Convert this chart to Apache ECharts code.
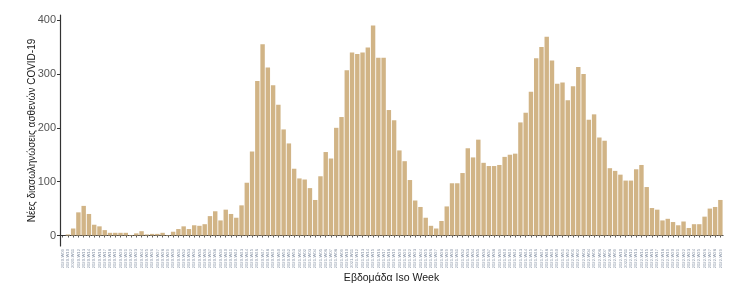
<!DOCTYPE html>
<html>
<head>
<meta charset="utf-8">
<script src="https://cdn.jsdelivr.net/npm/echarts@6/dist/echarts.min.js"></script>
<style>
html,body{margin:0;padding:0;background:#fff;}
#c{width:734px;height:285px;}
</style>
</head>
<body>
<div id="c"></div>
<script>
// ISO week ranges shown on the x axis
const weekRanges = [
  { year: 2020, from: 9, to: 53 },
  { year: 2021, from: 1, to: 52 },
  { year: 2022, from: 1, to: 29 }
];
const categories = [];
weekRanges.forEach(r => {
  for (let w = r.from; w <= r.to; w++) {
    categories.push(r.year + '-W' + (w < 10 ? '0' + w : w));
  }
});

// New intubations of COVID-19 patients per ISO week
const intubations = [
  0, 2, 13, 43, 55, 40, 20, 17, 10, 5, 5, 5, 5, 1, 4, 8, 2, 3, 3, 5,
  1, 7, 12, 17, 12, 19, 18, 21, 36, 45, 28, 48, 40, 33, 56, 98, 156, 287, 355, 312,
  279, 243, 197, 171, 124, 106, 104, 88, 66, 110, 155, 143, 200, 220, 307, 340, 337, 340, 349, 390,
  330, 330, 233, 214, 158, 138, 103, 65, 53, 33, 18, 13, 27, 54, 97, 97, 116, 162, 145, 178,
  135, 129, 129, 131, 146, 150, 152, 210, 228, 267, 329, 350, 369, 325, 282, 284, 251, 277, 313, 300,
  215, 225, 182, 176, 125, 120, 113, 102, 102, 123, 131, 90, 51, 48, 28, 31, 25, 19, 26, 14,
  21, 21, 35, 50, 53, 66
];

const yTicks = [0, 100, 200, 300, 400];
const yTitle = 'Νέες διασωληνώσεις ασθενών COVID-19';
const xTitle = 'Εβδομάδα Iso Week';

const chart = echarts.init(document.getElementById('c'), null, { renderer: 'canvas' });
chart.setOption({
  animation: false,
  backgroundColor: '#ffffff',
  textStyle: { fontFamily: 'Liberation Sans, Arial, sans-serif' },
  grid: { left: 60, right: 11, top: 15, bottom: 39, containLabel: false, outerBoundsMode: 'none' },
  xAxis: {
    type: 'category',
    data: categories,
    boundaryGap: true,
    name: xTitle,
    nameLocation: 'middle',
    nameGap: 27,
    nameMoveOverlap: false,
    nameTextStyle: { fontSize: 10.5, color: '#1a1a1a', fontFamily: 'Liberation Sans, Arial, sans-serif' },
    axisLine: { lineStyle: { color: '#333333', width: 1.2 } },
    axisTick: { show: true, interval: 0, alignWithLabel: true, length: 2, lineStyle: { color: '#333333', width: 0.8 } },
    axisLabel: {
      interval: 0, rotate: 90, fontSize: 4.2, color: '#8a96a8', margin: 3,
      fontFamily: 'Liberation Sans, Arial, sans-serif'
    },
    splitLine: { show: false }
  },
  yAxis: {
    type: 'value',
    min: -19.5,
    max: 409.5,
    name: yTitle,
    nameLocation: 'middle',
    nameGap: 23,
    nameMoveOverlap: false,
    nameRotate: 90,
    nameTextStyle: { fontSize: 10, color: '#1a1a1a', fontFamily: 'Liberation Sans, Arial, sans-serif' },
    axisLine: { show: true, lineStyle: { color: '#333333', width: 1.2 } },
    axisTick: { show: true, length: 3, customValues: yTicks, lineStyle: { color: '#333333' } },
    axisLabel: { customValues: yTicks, fontSize: 11, color: '#555555', margin: 4 },
    splitLine: { show: false }
  },
  series: [{
    type: 'bar',
    data: intubations,
    barCategoryGap: '16%',
    itemStyle: { color: '#D1B486' }
  }]
});
</script>
</body>
</html>
